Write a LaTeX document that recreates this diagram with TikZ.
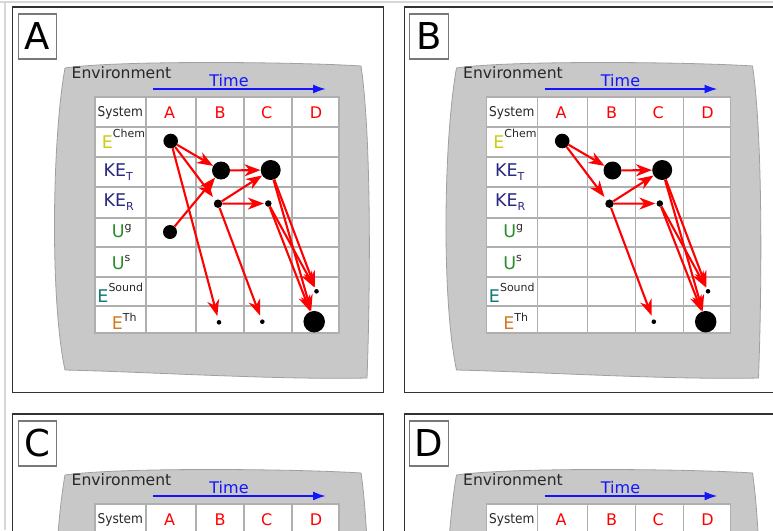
\documentclass[tikz,border=0pt]{standalone}
\usepackage{fontspec}
\setmainfont{DejaVu Sans}
\usepackage{graphicx}
\usetikzlibrary{arrows.meta}
\definecolor{echem}{RGB}{205,205,20}
\definecolor{kecol}{RGB}{40,40,130}
\definecolor{ucol}{RGB}{40,140,40}
\definecolor{sndcol}{RGB}{20,120,120}
\definecolor{thcol}{RGB}{215,120,30}
\definecolor{supcol}{RGB}{40,40,40}
\definecolor{envgray}{RGB}{200,200,200}
\definecolor{envedge}{RGB}{160,160,160}
\definecolor{gridgray}{RGB}{175,175,175}
\definecolor{framecol}{RGB}{50,50,50}
\definecolor{labcol}{RGB}{120,120,120}
\definecolor{pagegray}{RGB}{215,215,215}
\definecolor{redline}{RGB}{255,0,0}
\definecolor{timeblue}{RGB}{20,20,255}
\definecolor{txtgray}{RGB}{40,40,40}
\newcommand\fs[1]{\fontsize{#1}{#1}\selectfont}
\newcommand\supf{\fs{11}\color{supcol}}
\tikzset{
  panelframe/.style={draw=framecol, line width=1.3pt},
  labelbox/.style={draw=labcol, line width=1.2pt, minimum width=38.4pt, minimum height=45pt, inner sep=0pt, font={\fs{37}}},
  envshape/.style={fill=envgray, draw=envedge, line width=0.8pt},
  envtext/.style={anchor=base west, inner sep=0pt, text=txtgray, font={\fs{15.6}}},
  timearrow/.style={draw=timeblue, line width=2pt, -{Latex[length=13pt,width=9pt]}},
  timetext/.style={anchor=base, inner sep=0pt, text=timeblue, font={\fs{16}}},
  gridline/.style={draw=gridgray, line width=1.1pt},
  systext/.style={anchor=base, inner sep=0pt, text=txtgray, font={\fs{13.5}}},
  coltext/.style={anchor=base, inner sep=0pt, text=redline, font={\fs{16}}},
  rowtext/.style={anchor=base, inner sep=0pt, font={\fs{17.5}}},
  blob/.style={circle, fill=black, inner sep=0pt, minimum size=#1},
  flow/.style={draw=redline, line width=2.1pt, -{Stealth[length=16pt,width=12pt,inset=5pt]}},
  toSmall/.style={shorten >=4pt}
}
\newcommand\panelbase[1]{%
  \draw[panelframe] (12.7,7) rectangle (383.3,392.5);
  \node[labelbox] (lab) at (37.5,36.5) {#1};
  \path[envshape] (65,68) .. controls (120,60) and (300,62) .. (361,66)
     .. controls (372,140) and (370,300) .. (367,378)
     .. controls (280,380) and (150,372) .. (65,370)
     .. controls (50,300) and (52,140) .. (65,68) -- cycle;
  \node[envtext] (envt) at (71.5,78) {Environment};
  \coordinate (t0) at (153,89);
  \coordinate (t1) at (326,89);
  \draw[timearrow] (t0) -- (t1);
  \node[timetext] (ttxt) at (229,86) {Time};
  \draw[gridline, fill=white] (95,97) rectangle (339,333);
  \foreach \x in {146,196,244,292} {\draw[gridline] (\x,97) -- (\x,333);}
  \foreach \y in {127,157,187,218,247,277,306} {\draw[gridline] (95,\y) -- (339,\y);}
  \node[systext] (sys) at (120.3,116) {\scalebox{0.9}[1]{System}};
  \node[coltext] (ca) at (169.5,118.7) {A};
  \node[coltext] (cb) at (220,118.7) {B};
  \node[coltext] (cc) at (266.8,118.7) {C};
  \node[coltext] (cd) at (316,118.7) {D};
}
\newcommand\rowlabels{%
  \node[rowtext] (r1) at (123.5,148.3) {{\color{echem}E}\raisebox{10.5pt}{\supf Chem}};
  \node[rowtext] (r2) at (118.3,176.7) {\color{kecol}KE\raisebox{-4pt}{\fs{11}T}};
  \node[rowtext] (r3) at (118.7,206.7) {\color{kecol}KE\raisebox{-3.5pt}{\fs{11}R}};
  \node[rowtext] (r4) at (121.8,237.7) {{\color{ucol}U}\raisebox{7.3pt}{\supf g}};
  \node[rowtext] (r5) at (121.2,269) {{\color{ucol}U}\raisebox{7.3pt}{\supf s}};
  \node[rowtext] (r6) at (120.3,302.3) {{\color{sndcol}E}\raisebox{11pt}{\supf Sound}};
  \node[rowtext] (r7) at (124.2,329) {{\color{thcol}E}\raisebox{7.3pt}{\supf Th}};
}
\newcommand\commonflow{%
  \node[blob=14.6pt] (a1) at (170.7,141) {};
  \node[blob=18pt] (b2) at (221,170.5) {};
  \node[blob=20pt] (c2) at (270.7,170) {};
  \node[blob=8.5pt] (b3) at (218,203.7) {};
  \node[blob=6.5pt] (c3) at (268.3,203.5) {};
  \node[blob=4.6pt] (c8) at (262.3,321.7) {};
  \node[blob=4.6pt] (d7) at (316.5,291.3) {};
  \node[blob=21.5pt] (d8) at (314.2,321.7) {};
  \draw[flow] (a1) -- (b2);
  \draw[flow, toSmall] (a1) -- (b3);
  \draw[flow] (b2) -- (c2);
  \draw[flow] (b3) -- (c2);
  \draw[flow, shorten >=1pt] (b3) -- (c3);
  \draw[flow, toSmall] (b3) -- (c8);
  \draw[flow, shorten >=2pt] (c2) -- (d7);
  \draw[flow] (c2) -- (d8);
  \draw[flow, shorten >=2pt] (c3) -- (d7);
  \draw[flow] (c3) -- (d8);
}
\begin{document}
\begin{tikzpicture}[x=1pt,y=-1pt]
\path[use as bounding box] (0,0) rectangle (773,530);
\clip (0,0) rectangle (773,530);
\draw[pagegray, line width=1.2pt] (0,2) -- (773,2);
\draw[pagegray, line width=1.3pt] (5,2) -- (5,530);
% panel A
\begin{scope}[name prefix=pA-]
  \panelbase{A}
  \rowlabels
  \node[blob=14pt] (a4) at (170,232) {};
  \node[blob=4.6pt] (b8) at (219,322.3) {};
  \commonflow
  \draw[flow] (a4) -- (b2);
  \draw[flow, toSmall] (a1) -- (b8);
\end{scope}
% panel B
\begin{scope}[shift={(391.5,0)}, name prefix=pB-]
  \panelbase{B}
  \rowlabels
  \commonflow
\end{scope}
% panel C
\begin{scope}[shift={(0,407)}, name prefix=pC-]
  \panelbase{C}
\end{scope}
% panel D
\begin{scope}[shift={(391.5,407)}, name prefix=pD-]
  \panelbase{D}
\end{scope}
\end{tikzpicture}
\end{document}
